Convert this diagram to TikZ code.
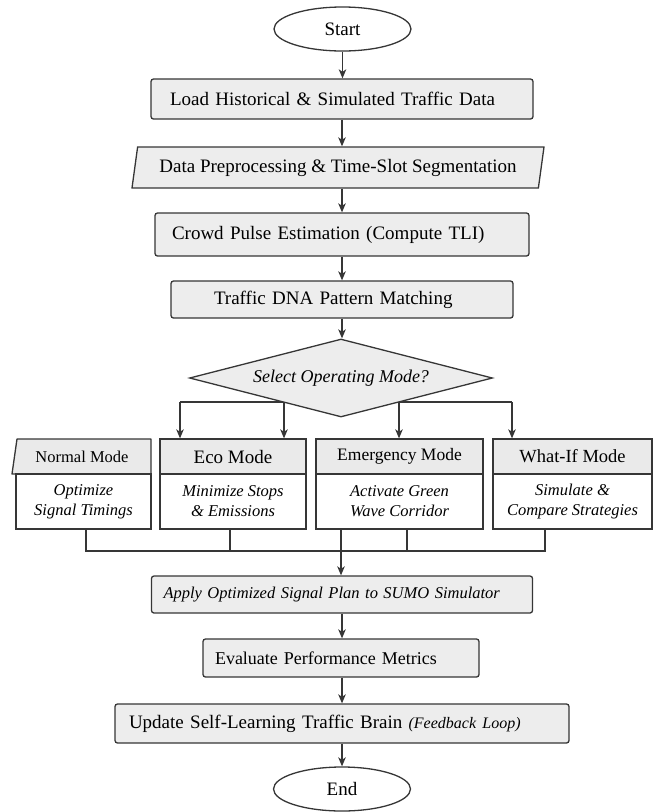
\documentclass[tikz,border=0pt]{standalone}
\usepackage{fontspec}
\setmainfont{Liberation Serif}
\usetikzlibrary{arrows.meta,shapes.geometric,backgrounds}
\definecolor{ln}{HTML}{363636}
\definecolor{bx}{HTML}{EDEDED}
\definecolor{hd}{HTML}{EAEAEA}
\newcommand{\fsz}[1]{\fontsize{#1}{#1}\selectfont}
\begin{document}
\begin{tikzpicture}[x=1pt,y=-1pt,
  every node/.style={font=\fsz{19}, text=black},
  proc/.style={draw=ln, fill=bx, line width=1.3pt, rounded corners=2.5pt, align=left, inner ysep=0pt},
  term/.style={draw=ln, fill=white, line width=1.3pt, ellipse, minimum width=137pt, minimum height=44pt, inner sep=0pt},
  para/.style={draw=ln, fill=bx, line width=1.3pt, trapezium, trapezium left angle=72, trapezium right angle=108, trapezium stretches body, inner xsep=2pt, inner ysep=0pt},
  head/.style={draw=ln, fill=hd, line width=1.3pt, inner sep=0pt, minimum height=35pt},
  body/.style={draw=ln, fill=white, line width=1.3pt, inner sep=0pt, minimum height=55pt, align=center, font=\fontsize{16.5}{20}\selectfont\itshape},
  conn/.style={draw=ln, line width=1.3pt},
  arr/.style={conn, -{Stealth[length=9pt,width=7.5pt,inset=2.5pt]}},
]
\useasboundingbox (0,0) rectangle (655,812);

% main column
\node[term] (start) at (342.5,29) {Start};
\node[proc, minimum height=40pt, inner xsep=19pt, text width=344pt] (load) at (342,99) {Load Historical \& Simulated Traffic Data};
\node[para, minimum width=412pt, minimum height=41pt] (prep) at (338,167.5) {Data Preprocessing \& Time-Slot Segmentation};
\node[proc, minimum height=43pt, inner xsep=17pt, text width=340pt] (crowd) at (342,234.5) {Crowd Pulse Estimation (Compute TLI)};
\node[proc, minimum height=37pt, inner xsep=43pt, text width=256pt] (dna) at (342,299.5) {Traffic DNA Pattern Matching};
\node[diamond, draw=ln, fill=bx, line width=1.3pt, minimum width=303pt, minimum height=78pt, aspect=3.9, inner sep=0pt, font=\fontsize{18}{18}\selectfont\itshape] (dia) at (341,378) {Select Operating Mode?};

% mode boxes
\coordinate (nh1) at (17,439);
\coordinate (nh2) at (151,439);
\coordinate (nh3) at (151,474);
\coordinate (nh4) at (12,474);
\draw[draw=ln, fill=hd, line width=1.3pt, line join=round] (nh1) -- (nh2) -- (nh3) -- (nh4) -- cycle;
\node[inner sep=0pt, font=\fsz{16.5}] (nhead) at (82,456.5) {Normal Mode};
\node[body, minimum width=135pt] (nbody) at (83.5,501.5) {Optimize\\Signal Timings};
\node[head, minimum width=146pt] (ehead) at (233,456.5) {Eco Mode};
\node[body, minimum width=146pt] (ebody) at (233,501.5) {Minimize Stops\\\& Emissions};
\node[head, minimum width=167pt, font=\fsz{17.5}] (mhead) at (399.5,456.5) {Emergency Mode};
\node[body, minimum width=167pt] (mbody) at (399.5,501.5) {Activate Green\\Wave Corridor};
\node[head, minimum width=159pt, font=\fsz{18.5}] (whead) at (572.5,456.5) {What-If Mode};
\node[body, minimum width=159pt] (wbody) at (572.5,501.5) {Simulate \&\\Compare Strategies};

% lower column
\node[proc, minimum height=37pt, inner xsep=12pt, text width=357pt, font=\fontsize{16.5}{16.5}\selectfont\itshape] (apply) at (342,594.5) {Apply Optimized Signal Plan to SUMO Simulator};
\node[proc, minimum height=38pt, inner xsep=12pt, text width=252pt, font=\fsz{18}] (eval) at (341,658) {Evaluate Performance Metrics};
\node[proc, minimum height=39pt, inner xsep=14pt, text width=426pt] (upd) at (342,723.5) {Update Self-Learning Traffic Brain {\fontsize{16}{16}\selectfont\itshape(Feedback Loop)}};
\node[term] (end) at (342,789) {End};

% connectors in the main column
\draw[arr] (start.south) -- (start.south |- load.north);
\draw[arr] (load.south) -- (load.south |- prep.north);
\draw[arr] (load.south |- prep.south) -- (load.south |- crowd.north);
\draw[arr] (crowd.south) -- (crowd.south |- dna.north);
\draw[arr] (dna.south) -- (dna.south |- dia.north);

% split to modes
\coordinate (s1) at (180,402);
\coordinate (s2) at (284,402);
\coordinate (s3) at (399,402);
\coordinate (s4) at (512,402);
\begin{scope}[on background layer]
\draw[conn] (s1) -- (s4);
\end{scope}
\draw[arr] (s1) -- (s1 |- ehead.north);
\draw[arr] (s2) -- (s2 |- ehead.north);
\draw[arr] (s3) -- (s3 |- mhead.north);
\draw[arr] (s4) -- (s4 |- whead.north);

% merge
\coordinate (m1) at (86,551);
\coordinate (m2) at (230,551);
\coordinate (m3) at (407,551);
\coordinate (m4) at (545,551);
\coordinate (ax) at (341,551);
\draw[conn] (m1 |- nbody.south) -- (m1) -- (m4) -- (m4 |- wbody.south);
\draw[conn] (m2 |- ebody.south) -- (m2);
\draw[conn] (m3 |- mbody.south) -- (m3);
\draw[arr] (ax |- mbody.south) -- (ax |- apply.north);

% lower connectors
\draw[arr] (apply.south) -- (apply.south |- eval.north);
\draw[arr] (apply.south |- eval.south) -- (apply.south |- upd.north);
\draw[arr] (upd.south) -- (upd.south |- end.north);
\end{tikzpicture}
\end{document}
